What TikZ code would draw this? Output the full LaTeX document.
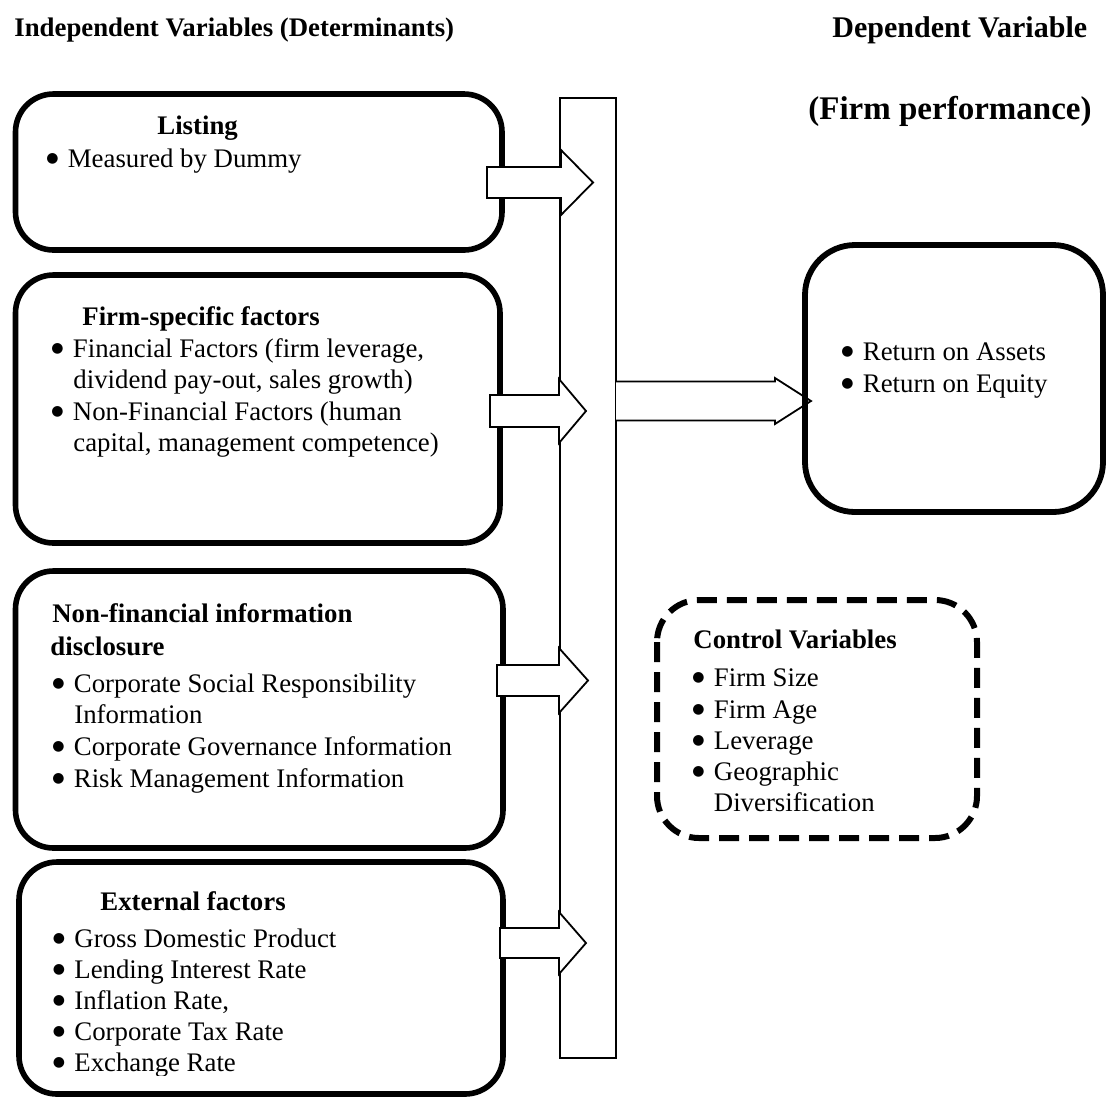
\documentclass[tikz,border=0pt]{standalone}
\usepackage{fontspec}
\setmainfont{Liberation Serif}
\newfontfamily\dejavu{DejaVu Sans}
\newcommand\blt{\makebox[10.75pt][l]{\raisebox{2.3pt}{\fontsize{7}{8}\dejavu ●}}}
\begin{document}
\begin{tikzpicture}[x=0.5pt,y=-0.5pt,
  box/.style={draw=black,line width=2.8pt,rounded corners=19pt,fill=white},
  bigbox/.style={draw=black,line width=2.9pt,rounded corners=25pt},
  dbox/.style={draw=black,line width=3pt,rounded corners=21pt,dash pattern=on 10pt off 5pt,fill=white},
  bar/.style={draw=black,line width=0.9pt,fill=white},
  barrow/.style={draw=black,line width=0.9pt,fill=white,line join=miter},
  txt/.style={anchor=base west,inner sep=0pt,font=\fontsize{13.4}{16}\selectfont},
  hdr/.style={anchor=base west,inner sep=0pt,font=\fontsize{13.4}{16}\selectfont\bfseries}
]
\useasboundingbox (0,0) rectangle (1107,1099);

% headers
\node[hdr] (h1) at (14,36) {Independent Variables (Determinants)};
\node[hdr,font=\fontsize{15}{16}\selectfont\bfseries] (h2) at (832,37) {Dependent Variable};
\node[hdr,font=\fontsize{16.5}{18}\selectfont\bfseries] (h3) at (808,119) {(Firm performance)};

% left boxes
\draw[box] (15.5,94) rectangle (502,250);
\draw[box] (15.5,275) rectangle (500,543);
\draw[box] (15.5,571) rectangle (503,848);
\draw[box] (19,862) rectangle (503,1094);

% vertical bar
\draw[bar] (560,98) rectangle (616,1058);

% block arrows into the bar
\draw[barrow] (487,167) -- (561,167) -- (561,150) -- (593,182.5) -- (561,215) -- (561,198) -- (487,198) -- cycle;
\draw[barrow] (490,395) -- (559,395) -- (559,379) -- (586,411) -- (559,443) -- (559,427) -- (490,427) -- cycle;
\draw[barrow] (497,665) -- (559,665) -- (559,648) -- (588,680.5) -- (559,713) -- (559,696) -- (497,696) -- cycle;
\draw[barrow] (500,928) -- (559,928) -- (559,912) -- (586,943) -- (559,974) -- (559,958) -- (500,958) -- cycle;

% big arrow to dependent variable
\draw[barrow] (616,381.5) -- (775,381.5) -- (775,378) -- (811,401) -- (775,424) -- (775,420.5) -- (616,420.5);

% right boxes
\draw[bigbox] (805,245) rectangle (1103,512);
\draw[dbox] (657,600) rectangle (977,838);

% Listing
\node[hdr] (l0) at (157,134) {Listing};
\node[txt] (l1) at (46,167) {\blt Measured by Dummy};

% Firm-specific
\node[hdr] (f0) at (82,325) {Firm-specific factors};
\node[txt] (f1) at (51,357) {\blt Financial Factors (firm leverage,};
\node[txt] (f2) at (73,388) {dividend pay-out, sales growth)};
\node[txt] (f3) at (51,420) {\blt Non-Financial Factors (human};
\node[txt] (f4) at (73,451) {capital, management competence)};

% Non-financial disclosure
\node[hdr] (n0) at (52,622) {Non-financial information};
\node[hdr] (n1) at (50,655) {disclosure};
\node[txt] (n2) at (52,692) {\blt Corporate Social Responsibility};
\node[txt] (n3) at (74,723) {Information};
\node[txt] (n4) at (52,755) {\blt Corporate Governance Information};
\node[txt] (n5) at (52,787) {\blt Risk Management Information};

% External factors
\node[hdr] (e0) at (100,910) {External factors};
\node[txt] (e1) at (52.5,947) {\blt Gross Domestic Product};
\node[txt] (e2) at (52.5,978) {\blt Lending Interest Rate};
\node[txt] (e3) at (52.5,1009) {\blt Inflation Rate,};
\node[txt] (e4) at (52.5,1040) {\blt Corporate Tax Rate};
\begin{scope}
\clip (19,1050) rectangle (503,1075);
\node[txt] (e5) at (52.5,1071) {\blt Exchange Rate};
\end{scope}

% Dependent variable
\node[txt] (r1) at (841,360) {\blt Return on Assets};
\node[txt] (r2) at (841,392) {\blt Return on Equity};

% Control variables
\node[hdr] (c0) at (693,648) {Control Variables};
\node[txt] (c1) at (692,686) {\blt Firm Size};
\node[txt] (c2) at (692,718) {\blt Firm Age};
\node[txt] (c3) at (692,749) {\blt Leverage};
\node[txt] (c4) at (692,780) {\blt Geographic};
\node[txt] (c5) at (713.5,811) {Diversification};
\end{tikzpicture}
\end{document}
